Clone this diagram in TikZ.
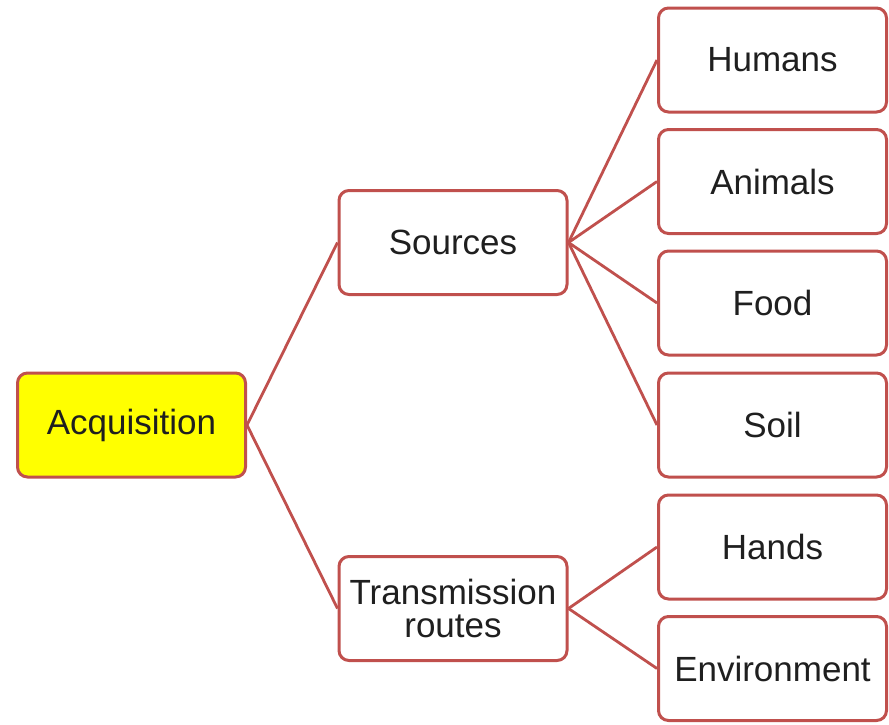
\documentclass[tikz,border=0pt]{standalone}
\usepackage{fontspec}
\setmainfont{Liberation Sans}
\definecolor{boxred}{HTML}{C0504D}
\definecolor{boxyellow}{HTML}{FFFF00}
\begin{document}
\begin{tikzpicture}[x=1pt,y=-1pt,
  box/.style={draw=boxred,line width=3pt,rounded corners=10pt,fill=white,
    minimum width=228pt,minimum height=104pt,inner sep=2pt,align=center,
    font=\fontsize{35}{33}\selectfont,text=black!88},
  link/.style={draw=boxred,line width=2.8pt}]
\useasboundingbox (0,0) rectangle (889,724);
\node[box,fill=boxyellow] (acq) at (131.5,425) {Acquisition};
\node[box] (src) at (453,242.5) {Sources};
\node[box] (tr) at (453,608.5) {Transmission\\routes};
\node[box] (hum) at (772.5,60) {Humans};
\node[box] (ani) at (772.5,181.5) {Animals};
\node[box] (food) at (772.5,303) {Food};
\node[box] (soil) at (772.5,425) {Soil};
\node[box] (hand) at (772.5,547) {Hands};
\node[box] (env) at (772.5,668.5) {Environment};
\draw[link] (acq.east) -- (src.west);
\draw[link] (acq.east) -- (tr.west);
\draw[link] (src.east) -- (hum.west);
\draw[link] (src.east) -- (ani.west);
\draw[link] (src.east) -- (food.west);
\draw[link] (src.east) -- (soil.west);
\draw[link] (tr.east) -- (hand.west);
\draw[link] (tr.east) -- (env.west);
\end{tikzpicture}
\end{document}
